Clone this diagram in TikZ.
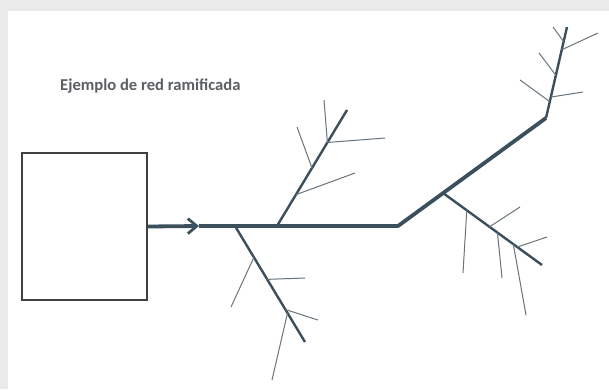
\documentclass[tikz,border=0pt]{standalone}
\usepackage{fontspec}
\setmainfont{Carlito}
\usepackage{xcolor}
\usepackage{tikz}
\usetikzlibrary{arrows.meta,calc}
\definecolor{azulPizarra}{HTML}{3B4F5C}
\definecolor{grisRamita}{HTML}{68747D}
\definecolor{grisTexto}{HTML}{5A6065}
\definecolor{grisMarco}{HTML}{EAEAEA}
\tikzset{
    fuente/.style={
        rectangle,
        draw=black!75,
        line width=1.8bp,
        minimum width=125bp,
        minimum height=147bp,
        inner sep=0pt
    },
    titulo/.style={text=grisTexto, font=\fontsize{16.6bp}{18bp}\selectfont\bfseries, inner sep=0pt},
    troncal/.style={draw=azulPizarra, line width=3.8bp, line join=round},
    ramal/.style={draw=azulPizarra, line width=2.4bp},
    ramita/.style={draw=grisRamita, line width=1bp},
    flecha/.style={-{Straight Barb[length=9bp, width=15bp, line width=2.8bp]}}
}

\begin{document}
\begin{tikzpicture}[x=1bp, y=-1bp]
        \useasboundingbox (0,0) rectangle (609,389);
        \fill[grisMarco] (0,0) rectangle (609,389);
        \fill[white] (8,11) rectangle (609,389);

        \node[titulo, anchor=base west] (titulo) at (60,90) {Ejemplo de red ramificada};
        \node[fuente] (deposito) at (84.5,226.5) {};

        % tronco principal
        \coordinate (punta) at (199,226);
        \coordinate (b1) at (235,226);
        \coordinate (b2) at (277,226);
        \coordinate (codo) at (398,226);
        \coordinate (b3) at (443,193);
        \coordinate (cima) at (546,118);

        % extremos de los ramales
        \coordinate (r1) at (305,342);
        \coordinate (r2) at (347,110);
        \coordinate (r3) at (542,265);
        \coordinate (r4) at (567,27);

        % extremos de las ramitas
        \coordinate (a1) at (231,307);
        \coordinate (a2) at (305,278);
        \coordinate (a3) at (318,320);
        \coordinate (a4) at (272,380);
        \coordinate (c1) at (355,173);
        \coordinate (c2) at (297,127);
        \coordinate (c3) at (385,138);
        \coordinate (c4) at (324,100);
        \coordinate (d1) at (520,207);
        \coordinate (d2) at (463,273);
        \coordinate (d3) at (502,278);
        \coordinate (d4) at (547,237);
        \coordinate (d5) at (526,315);
        \coordinate (e1) at (583,92);
        \coordinate (e2) at (520,80);
        \coordinate (e3) at (539,53);
        \coordinate (e4) at (598,33);
        \coordinate (e5) at (553,27);

        \draw[troncal, flecha] (deposito.east) -- (punta);
        \draw[troncal] (punta) -- (codo) -- (cima);

        \draw[ramal] (b1) -- (r1);
        \draw[ramal] (b2) -- (r2);
        \draw[ramal] (b3) -- (r3);
        \draw[ramal] (cima) -- (r4);

        \draw[ramita] ($(b1)!0.27!(r1)$) -- (a1);
        \draw[ramita] ($(b1)!0.46!(r1)$) -- (a2);
        \draw[ramita] ($(b1)!0.72!(r1)$) -- (a3);
        \draw[ramita] ($(b1)!0.75!(r1)$) -- (a4);

        \draw[ramita] ($(b2)!0.27!(r2)$) -- (c1);
        \draw[ramita] ($(b2)!0.50!(r2)$) -- (c2);
        \draw[ramita] ($(b2)!0.72!(r2)$) -- (c3);
        \draw[ramita] ($(b2)!0.72!(r2)$) -- (c4);

        \draw[ramita] ($(b3)!0.47!(r3)$) -- (d1);
        \draw[ramita] ($(b3)!0.24!(r3)$) -- (d2);
        \draw[ramita] ($(b3)!0.55!(r3)$) -- (d3);
        \draw[ramita] ($(b3)!0.75!(r3)$) -- (d4);
        \draw[ramita] ($(b3)!0.71!(r3)$) -- (d5);

        \draw[ramita] ($(cima)!0.23!(r4)$) -- (e1);
        \draw[ramita] ($(cima)!0.18!(r4)$) -- (e2);
        \draw[ramita] ($(cima)!0.47!(r4)$) -- (e3);
        \draw[ramita] ($(cima)!0.75!(r4)$) -- (e4);
        \draw[ramita] ($(cima)!0.84!(r4)$) -- (e5);
\end{tikzpicture}
\end{document}
